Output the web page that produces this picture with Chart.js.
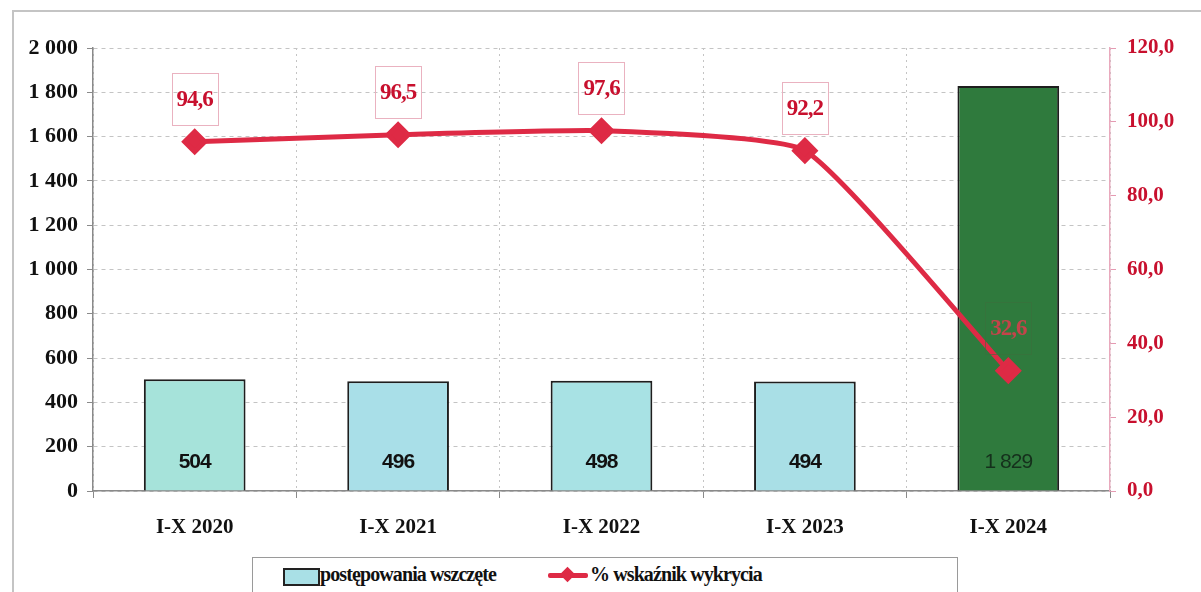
<!DOCTYPE html>
<html lang="pl">
<head>
<meta charset="utf-8">
<title>Postępowania wszczęte i wskaźnik wykrycia</title>
<script src="https://cdn.jsdelivr.net/npm/chart.js@4.4.1/dist/chart.umd.min.js"></script>
<style>
  html, body { margin: 0; padding: 0; background: #fff; }
  #wrap { position: relative; width: 1201px; height: 592px; overflow: hidden; }
  #frame { position: absolute; left: 12px; top: 10px; width: 1250px; height: 650px; border: 2px solid #c4c4c4; }
  canvas { position: absolute; left: 0; top: 0; }
  #legend { position: absolute; left: 252px; top: 557px; width: 704px; height: 50px; border: 1.5px solid #9a9a9a; background: #fff;
            font-family: "Liberation Serif", serif; font-weight: bold; font-size: 20px; color: #111; letter-spacing: -0.9px; }
  .swatch { position: absolute; left: 30px; top: 10px; width: 33px; height: 14px; background: #a9e0e6; border: 2px solid #222; }
  .lbl1 { position: absolute; left: 67px; top: 5px; }
  .lline { position: absolute; left: 295px; top: 15px; width: 40px; height: 5px; background: #de2a45; border-radius: 2px; }
  .ldiam { position: absolute; left: 309px; top: 11px; width: 11px; height: 11px; background: #de2a45; transform: rotate(45deg); }
  .lbl2 { position: absolute; left: 337px; top: 5px; }
</style>
</head>
<body>
<div id="wrap">
  <div id="frame"></div>
  <canvas id="chart" width="1201" height="592"></canvas>
  <div id="legend">
    <div class="swatch"></div><span class="lbl1">postępowania wszczęte</span>
    <div class="lline"></div><div class="ldiam"></div><span class="lbl2">% wskaźnik wykrycia</span>
  </div>
</div>
<script>
// categories and values
const periods = ['I-X 2020', 'I-X 2021', 'I-X 2022', 'I-X 2023', 'I-X 2024'];
const casesStarted = [504, 496, 498, 494, 1829];
const detectionRate = [94.6, 96.5, 97.6, 92.2, 32.6];

const red = '#c8102e';

function spaced(n) {
    return String(n).replace(/\B(?=(\d{3})+(?!\d))/g, ' ');
}
function comma(v) {
    return Number(v).toFixed(1).replace('.', ',');
}

// draws the value labels: bar values near the bottom, line values in small boxes
const valueLabels = {
    id: 'valueLabels',
    afterDatasetsDraw(chart) {
        const ctx = chart.ctx;
        const bars = chart.getDatasetMeta(0);
        const line = chart.getDatasetMeta(1);
        ctx.save();
        ctx.textAlign = 'center';
        ctx.textBaseline = 'middle';
        bars.data.forEach((bar, i) => {
            const last = i === bars.data.length - 1;
            ctx.font = (last ? '' : 'bold ') + '21px "Liberation Sans", Arial, sans-serif';
            ctx.letterSpacing = '-1px';
            ctx.fillStyle = last ? '#15301c' : '#111';
            ctx.fillText(spaced(casesStarted[i]), bar.x, bar.base - 28);
        });
        line.data.forEach((pt, i) => {
            const txt = comma(detectionRate[i]);
            ctx.font = 'bold 23px "Liberation Serif", serif';
            ctx.letterSpacing = '-1px';
            const w = ctx.measureText(txt).width + 10;
            const h = 52;
            const bottom = pt.y - 17;
            const last = i === line.data.length - 1;
            ctx.strokeStyle = last ? 'rgba(60,110,60,0.6)' : '#eab2c0';
            ctx.lineWidth = 1;
            ctx.strokeRect(Math.round(pt.x - w / 2) + 0.5, Math.round(bottom - h) + 0.5, Math.round(w), h);
            ctx.fillStyle = last ? '#c4444a' : red;
            ctx.fillText(txt, pt.x, bottom - h / 2 + 1);
        });
        ctx.restore();
    }
};

const ctx = document.getElementById('chart').getContext('2d');
new Chart(ctx, {
    type: 'bar',
    data: {
        labels: periods,
        datasets: [{
            label: 'postępowania wszczęte',
            data: casesStarted,
            yAxisID: 'y',
            order: 1,
            backgroundColor: ['#a6e3da', '#a9dfe8', '#a8e2e4', '#a9dfe6', '#2f7a3d'],
            borderColor: '#1e1e1e',
            borderWidth: 2,
            barPercentage: 0.5,
            categoryPercentage: 1.0
        }, {
            type: 'line',
            label: '% wskaźnik wykrycia',
            data: detectionRate,
            yAxisID: 'y1',
            order: 0,
            borderColor: '#de2a45',
            backgroundColor: '#de2a45',
            borderWidth: 5,
            tension: 0.15,
            pointStyle: 'rectRot',
            pointRadius: 10,
            pointHoverRadius: 10,
            pointBackgroundColor: '#de2a45',
            pointBorderColor: '#de2a45'
        }]
    },
    options: {
        responsive: false,
        animation: false,
        layout: { padding: { top: 48, left: 0, right: 0, bottom: 0 } },
        plugins: {
            legend: { display: false },
            tooltip: { enabled: false }
        },
        scales: {
            x: {
                offset: true,
                grid: {
                    offset: true,
                    color: '#c4c4c4',
                    tickColor: '#8a8a8a',
                    tickLength: 7
                },
                border: { color: '#8a8a8a', width: 1.5, dash: [2, 4] },
                ticks: {
                    color: '#111',
                    padding: 17,
                    font: { family: '"Liberation Serif", serif', size: 21, weight: 'bold' }
                },
                afterFit(scale) { scale.height = 101; }
            },
            y: {
                position: 'left',
                min: 0,
                max: 2000,
                ticks: {
                    stepSize: 200,
                    color: '#111',
                    padding: 9,
                    font: { family: '"Liberation Serif", serif', size: 22, weight: 'bold' },
                    callback: v => spaced(v)
                },
                grid: {
                    color: '#c4c4c4',
                    tickColor: '#8a8a8a',
                    tickLength: 6
                },
                border: { color: '#8a8a8a', width: 1.5, dash: [4, 4] },
                afterFit(scale) { scale.width = 93; }
            },
            y1: {
                position: 'right',
                min: 0,
                max: 120,
                ticks: {
                    stepSize: 20,
                    color: red,
                    padding: 11,
                    font: { family: '"Liberation Serif", serif', size: 21, weight: 'bold' },
                    callback: v => comma(v)
                },
                grid: {
                    drawOnChartArea: false,
                    tickColor: '#e59ab2',
                    tickLength: 6
                },
                border: { color: '#e9a9bd', width: 1.5 },
                afterFit(scale) { scale.width = 91; }
            }
        }
    },
    plugins: [valueLabels]
});
</script>
</body>
</html>
